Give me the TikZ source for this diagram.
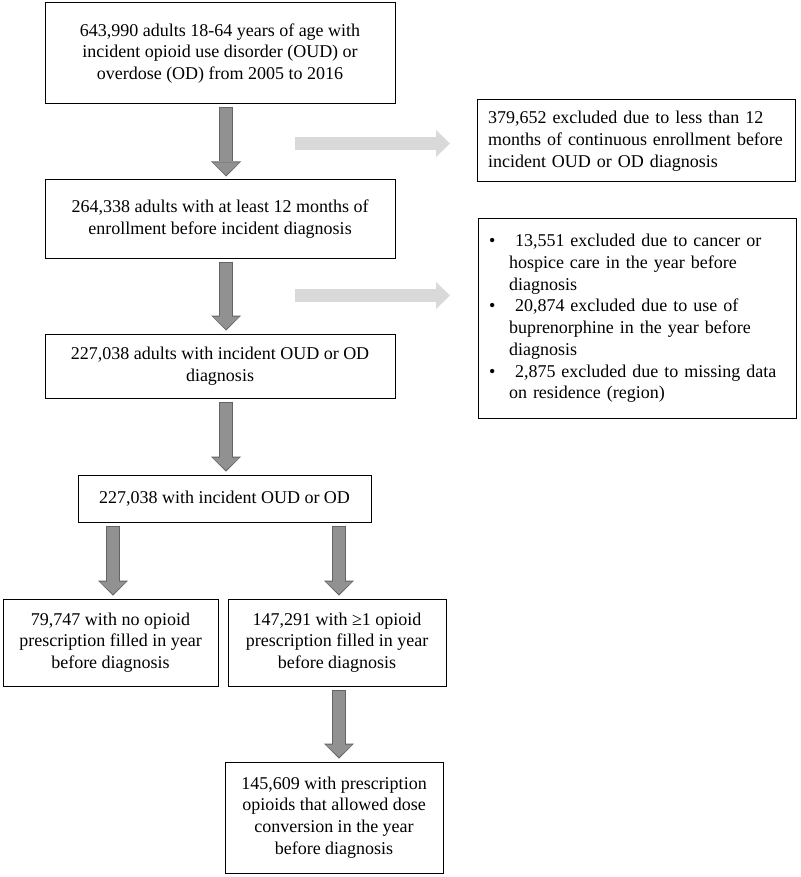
\documentclass[tikz,border=0pt]{standalone}
\usepackage{fontspec}
\setmainfont{Liberation Serif}
\usetikzlibrary{positioning,arrows.meta}

\definecolor{flechefond}{RGB}{145,145,145}
\definecolor{flechebord}{RGB}{100,100,100}
\definecolor{flechegris}{RGB}{217,217,217}

\begin{document}
\begin{tikzpicture}[x=1pt, y=-1pt, node distance=75pt and 9pt,
        boite/.style={draw, line width=1pt, align=center, inner sep=4pt, font=\fontsize{18}{21.7}\selectfont},
        exclu/.style={boite, align=left, text width=296pt, inner sep=11pt},
        bord/.style={line width=14pt, draw=flechebord, -{Triangle[width=30pt, length=15pt, line width=0pt]}, shorten <=3pt, shorten >=3pt},
        fond/.style={line width=12pt, draw=flechefond, -{Triangle[width=27pt, length=12.5pt, line width=0pt]}, shorten <=4pt, shorten >=4.5pt},
        grise/.style={line width=13pt, draw=flechegris, -{Triangle[width=27pt, length=14pt, line width=0pt]}}]
        \useasboundingbox (0,0) rectangle (800,877);

        % Les boîtes
        \node (0) [boite, minimum width=350pt, minimum height=101pt] at (220,53.5) {643,990 adults 18-64 years of age with\\incident opioid use disorder (OUD) or\\overdose (OD) from 2005 to 2016};
        \node (1) [boite, minimum width=350pt, minimum height=78pt, below=of 0] {264,338 adults with at least 12 months of\\enrollment before incident diagnosis};
        \node (2) [boite, minimum width=350pt, minimum height=64pt, below=of 1] {227,038 adults with incident OUD or OD\\diagnosis};
        \node (3) [boite, minimum width=293pt, minimum height=47pt, below=76pt of 2, xshift=4.5pt] {227,038 with incident OUD or OD};
        \node (4) [boite, minimum width=215pt, minimum height=87pt, below=76pt of 3.south, anchor=north, xshift=-114pt] {79,747 with no opioid\\prescription filled in year\\before diagnosis};
        \node (5) [boite, minimum width=218pt, minimum height=87pt, right=of 4] {147,291 with ≥1 opioid\\prescription filled in year\\before diagnosis};
        \node (6) [boite, minimum width=218pt, minimum height=111pt, below=of 5, xshift=-3pt] {145,609 with prescription\\opioids that allowed dose\\conversion in the year\\before diagnosis};
        \node (7) [exclu, minimum height=82pt] at (636,141) {379,652 excluded due to less than 12\\months of continuous enrollment before\\incident OUD or OD diagnosis};
        \node (8) [exclu, minimum height=199pt] at (637,318.5) {\makebox[20pt][l]{\textbullet}\ 13,551 excluded due to cancer or\\\hspace*{20pt}hospice care in the year before\\\hspace*{20pt}diagnosis\\\makebox[20pt][l]{\textbullet}\ 20,874 excluded due to use of\\\hspace*{20pt}buprenorphine in the year before\\\hspace*{20pt}diagnosis\\\makebox[20pt][l]{\textbullet}\ 2,875 excluded due to missing data\\\hspace*{20pt}on residence (region)};

        % Les points des flèches grises
        \coordinate (g1) at (295,143.5);
        \coordinate (h1) at (450,143.5);
        \coordinate (g2) at (295,295.5);
        \coordinate (h2) at (450,295.5);

        % Les flèches
        \draw[grise] (g1) -- (h1);
        \draw[grise] (g2) -- (h2);
        \draw[bord] ([xshift=6pt]0.south) -- ([xshift=6pt]1.north);
        \draw[fond] ([xshift=6pt]0.south) -- ([xshift=6pt]1.north);
        \draw[bord] ([xshift=6pt]1.south) -- ([xshift=6pt]2.north);
        \draw[fond] ([xshift=6pt]1.south) -- ([xshift=6pt]2.north);
        \draw[bord] ([xshift=6pt]2.south) -- ([xshift=1.5pt]3.north);
        \draw[fond] ([xshift=6pt]2.south) -- ([xshift=1.5pt]3.north);
        \draw[bord] ([xshift=2.5pt]4.north |- 3.south) -- ([xshift=2.5pt]4.north);
        \draw[fond] ([xshift=2.5pt]4.north |- 3.south) -- ([xshift=2.5pt]4.north);
        \draw[bord] ([xshift=2pt]5.north |- 3.south) -- ([xshift=2pt]5.north);
        \draw[fond] ([xshift=2pt]5.north |- 3.south) -- ([xshift=2pt]5.north);
        \draw[bord] ([xshift=2pt]5.south) -- ([xshift=5pt]6.north);
        \draw[fond] ([xshift=2pt]5.south) -- ([xshift=5pt]6.north);
    \end{tikzpicture}
\end{document}
